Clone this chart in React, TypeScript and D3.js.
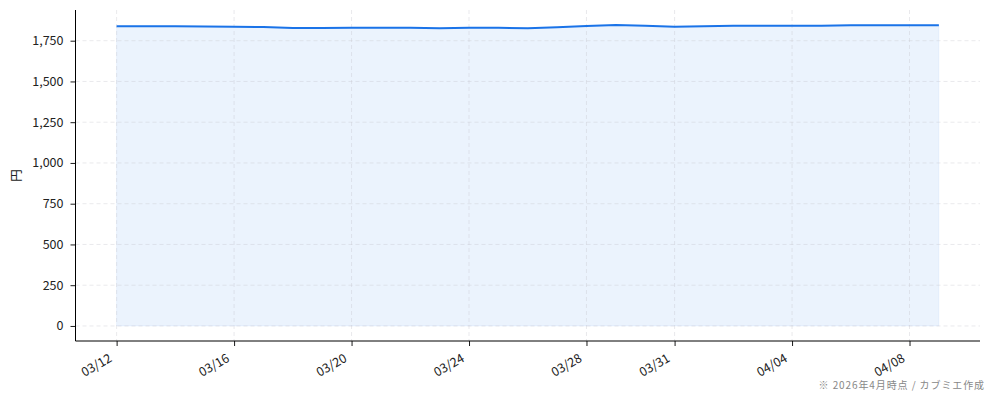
import React, { useEffect, useRef } from 'react';
import * as d3 from 'd3';

// 日付と終値（チャートから読み取り）
const dates: string[] = [
  '2026-03-12', '2026-03-13', '2026-03-14', '2026-03-15', '2026-03-16', '2026-03-17',
  '2026-03-18', '2026-03-19', '2026-03-20', '2026-03-21', '2026-03-22', '2026-03-23',
  '2026-03-24', '2026-03-25', '2026-03-26', '2026-03-27', '2026-03-28', '2026-03-29',
  '2026-03-30', '2026-03-31', '2026-04-01', '2026-04-02', '2026-04-03', '2026-04-04',
  '2026-04-05', '2026-04-06', '2026-04-07', '2026-04-08', '2026-04-09',
];
const prices: number[] = [
  1839, 1839, 1838, 1837, 1836, 1834,
  1828, 1828, 1829, 1829, 1829, 1826,
  1829, 1829, 1826, 1833, 1840, 1846,
  1841, 1836, 1839, 1841, 1842, 1841,
  1842, 1845, 1845, 1844, 1844,
];
const xTicks: string[] = [
  '2026-03-12', '2026-03-16', '2026-03-20', '2026-03-24',
  '2026-03-28', '2026-03-31', '2026-04-04', '2026-04-08',
];
const yTicks: number[] = [0, 250, 500, 750, 1000, 1250, 1500, 1750];

const yLabel = '円';
const note = '※ 2026年4月時点 / カブミエ作成';

const W = 994;
const H = 401;
const FONT = '"Noto Sans CJK JP", "Noto Sans", sans-serif';
const LINE = '#1a73e8';

const App: React.FC = () => {
  const ref = useRef<SVGSVGElement>(null);

  useEffect(() => {
    if (!ref.current) return;
    const svg = d3.select(ref.current);
    svg.selectAll('*').remove();

    const left = 75.5, right = 980, top = 10, bottom = 341;
    const parse = d3.timeParse('%Y-%m-%d');
    const data = dates.map((d, i) => ({ date: parse(d) as Date, v: prices[i] }));

    // matplotlib風の5%マージン
    const [x0, x1] = d3.extent(data, d => d.date) as [Date, Date];
    const span = +x1 - +x0;
    const x = d3.scaleTime()
      .domain([new Date(+x0 - span * 0.05), new Date(+x1 + span * 0.05)])
      .range([left, right]);
    const maxV = d3.max(prices) as number;
    const y = d3.scaleLinear()
      .domain([-maxV * 0.05, maxV * 1.05])
      .range([bottom, top]);

    svg.append('rect').attr('width', W).attr('height', H).attr('fill', '#fff');

    // 塗りつぶし
    const area = d3.area<{ date: Date; v: number }>()
      .x(d => x(d.date))
      .y0(y(0))
      .y1(d => y(d.v));
    svg.append('path')
      .datum(data)
      .attr('d', area)
      .attr('fill', LINE)
      .attr('fill-opacity', 0.085)
      .attr('stroke', LINE)
      .attr('stroke-opacity', 0.06)
      .attr('stroke-width', 1);

    // グリッド
    const grid = svg.append('g')
      .attr('stroke', '#c8c8d0')
      .attr('stroke-opacity', 0.5)
      .attr('stroke-dasharray', '4,3')
      .attr('stroke-width', 0.8);
    yTicks.forEach(t => {
      grid.append('line')
        .attr('x1', left).attr('x2', right)
        .attr('y1', y(t)).attr('y2', y(t));
    });
    xTicks.forEach(t => {
      const xx = x(parse(t) as Date);
      grid.append('line')
        .attr('x1', xx).attr('x2', xx)
        .attr('y1', top).attr('y2', bottom);
    });

    // 折れ線
    const line = d3.line<{ date: Date; v: number }>()
      .x(d => x(d.date))
      .y(d => y(d.v));
    svg.append('path')
      .datum(data)
      .attr('d', line)
      .attr('fill', 'none')
      .attr('stroke', LINE)
      .attr('stroke-width', 2);

    // 軸
    const yAxis = d3.axisLeft(y)
      .tickValues(yTicks)
      .tickSize(5)
      .tickPadding(7)
      .tickFormat(d => d3.format(',')(d as number));
    const gy = svg.append('g').attr('transform', `translate(${left},0)`).call(yAxis);
    gy.select('.domain').attr('d', `M0,${top}V${bottom}`).attr('stroke', '#000').attr('stroke-width', 1);
    gy.selectAll('.tick line').attr('stroke', '#000').attr('stroke-width', 0.9);
    gy.selectAll('.tick text')
      .attr('font-family', FONT)
      .attr('font-size', 12.5)
      .attr('fill', '#222');

    const xAxis = d3.axisBottom(x)
      .tickValues(xTicks.map(t => parse(t) as Date))
      .tickSize(5)
      .tickFormat(d => d3.timeFormat('%m/%d')(d as Date));
    const gx = svg.append('g').attr('transform', `translate(0,${bottom})`).call(xAxis);
    gx.select('.domain').attr('d', `M${left},0H${right}`).attr('stroke', '#000').attr('stroke-width', 1);
    gx.selectAll('.tick line').attr('stroke', '#000').attr('stroke-width', 0.9);
    gx.selectAll('.tick text')
      .attr('font-family', FONT)
      .attr('font-size', 12.5)
      .attr('fill', '#222')
      .attr('text-anchor', 'end')
      .attr('dy', null)
      .attr('y', null)
      .attr('dominant-baseline', 'central')
      .attr('transform', 'translate(-7,15) rotate(-30)');

    // 軸ラベル
    svg.append('text')
      .attr('transform', `translate(21,${(top + bottom) / 2}) rotate(-90)`)
      .attr('text-anchor', 'middle')
      .attr('font-family', FONT)
      .attr('font-size', 12.5)
      .attr('fill', '#222')
      .text(yLabel);

    // 注記
    svg.append('text')
      .attr('x', 985)
      .attr('y', 389)
      .attr('text-anchor', 'end')
      .attr('font-family', FONT)
      .attr('font-size', 10)
      .attr('letter-spacing', 0.9)
      .attr('fill', '#888')
      .text(note);
  }, []);

  return (
    <svg
      ref={ref}
      width={W}
      height={H}
      style={{ position: 'absolute', left: 0, top: 0, display: 'block' }}
    />
  );
};

export default App;
